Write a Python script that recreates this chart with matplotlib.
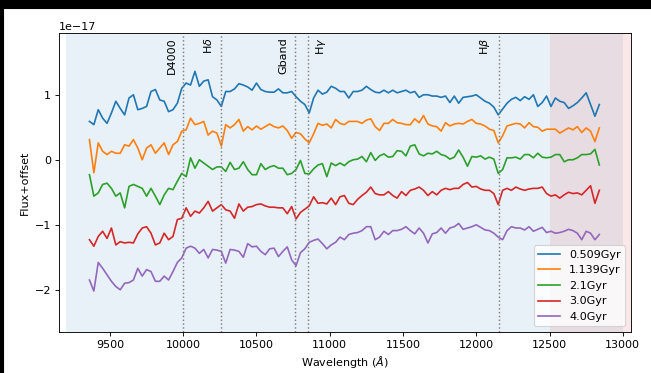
import numpy as np
import matplotlib
matplotlib.use('Agg')
import matplotlib.pyplot as plt
from matplotlib.patches import Rectangle

# Rejilla de longitudes de onda (Angstrom)
wave = np.arange(9360, 12841, 30)

edades = ['0.509Gyr', '1.139Gyr', '2.1Gyr', '3.0Gyr', '4.0Gyr']

# Flujo + offset, en unidades de 1e-17
flux_0509 = [0.59, 0.54, 0.77, 0.64, 0.56, 0.72, 0.90, 0.79, 0.69, 0.95, 1.00, 0.77, 0.79, 0.82, 1.05, 1.08, 0.92, 0.90, 0.74, 0.77, 0.87, 1.10, 1.18, 1.15, 1.36, 1.13, 1.21, 1.23, 0.97,
             0.92, 0.82, 1.05, 1.05, 1.09, 1.17, 1.15, 1.12, 1.07, 1.18, 1.08, 1.05, 1.04, 1.04, 1.09, 1.03, 1.03, 1.05, 0.97, 0.90, 0.85, 0.72, 0.95, 1.07, 1.01, 1.04, 1.13, 1.10, 1.05, 1.05,
             0.95, 1.05, 1.05, 1.07, 1.13, 1.08, 1.04, 1.03, 1.07, 1.03, 1.07, 1.03, 1.05, 1.07, 1.03, 1.05, 0.96, 1.00, 1.00, 0.98, 0.98, 0.96, 0.98, 0.88, 0.98, 0.87, 0.96, 0.97, 0.98,
             1.00, 0.95, 0.90, 0.87, 0.81, 0.69, 0.78, 0.87, 0.93, 0.96, 0.91, 0.97, 0.93, 1.00, 0.82, 0.88, 0.98, 0.82, 0.95, 0.90, 0.88, 0.79, 0.83, 0.88, 0.95, 1.03, 0.85, 0.67, 0.85]
flux_1139 = [0.31, -0.20, 0.26, 0.13, 0.08, 0.13, 0.10, 0.10, 0.23, 0.21, 0.31, 0.18, 0.0, 0.18, 0.23, 0.10, 0.18, 0.26, 0.08, 0.23, 0.28, 0.44, 0.46, 0.64, 0.54, 0.56, 0.59, 0.38, 0.44,
             0.41, 0.21, 0.54, 0.49, 0.54, 0.62, 0.44, 0.51, 0.46, 0.52, 0.47, 0.51, 0.55, 0.51, 0.49, 0.52, 0.45, 0.33, 0.42, 0.40, 0.32, 0.26, 0.40, 0.56, 0.53, 0.55, 0.49, 0.62, 0.56, 0.54,
             0.59, 0.59, 0.59, 0.56, 0.61, 0.63, 0.51, 0.45, 0.56, 0.56, 0.62, 0.57, 0.56, 0.54, 0.54, 0.63, 0.57, 0.68, 0.55, 0.52, 0.51, 0.44, 0.57, 0.52, 0.55, 0.56, 0.55, 0.59, 0.62,
             0.56, 0.55, 0.52, 0.47, 0.45, 0.26, 0.37, 0.52, 0.54, 0.56, 0.55, 0.49, 0.57, 0.51, 0.50, 0.44, 0.47, 0.47, 0.47, 0.41, 0.45, 0.49, 0.46, 0.51, 0.42, 0.49, 0.44, 0.28, 0.49]
flux_21 = [-0.23, -0.56, -0.51, -0.38, -0.36, -0.44, -0.56, -0.51, -0.74, -0.41, -0.38, -0.41, -0.44, -0.56, -0.44, -0.56, -0.69, -0.54, -0.44, -0.46, -0.33, -0.21, -0.26, 0.03, -0.13, 0.0, -0.05, -0.10, -0.15,
           -0.11, -0.11, -0.18, -0.04, -0.15, -0.13, -0.03, -0.15, -0.23, -0.23, -0.06, -0.15, -0.11, -0.09, -0.13, -0.13, -0.23, -0.21, -0.15, -0.01, -0.21, -0.22, -0.14, -0.08, -0.06, -0.26, -0.05, -0.09, -0.05, -0.09,
           -0.03, 0.0, 0.01, 0.05, -0.03, 0.11, -0.01, 0.06, 0.09, 0.04, 0.05, 0.14, 0.13, 0.06, 0.21, 0.23, 0.09, 0.06, 0.10, 0.09, 0.13, 0.08, 0.06, 0.01, 0.04, 0.15, 0.04, -0.10, 0.05,
           0.04, 0.06, 0.01, 0.04, 0.01, -0.21, -0.15, 0.03, 0.03, 0.04, 0.01, 0.08, 0.08, 0.03, 0.10, 0.04, 0.03, 0.04, 0.08, 0.08, -0.03, 0.0, 0.0, 0.03, 0.08, 0.08, 0.09, 0.16, -0.08]
flux_30 = [-1.23, -1.33, -1.18, -1.10, -1.21, -1.05, -1.31, -1.26, -1.28, -1.27, -1.28, -1.14, -1.05, -1.03, -1.13, -1.31, -1.28, -1.13, -1.23, -1.18, -0.92, -0.90, -0.74, -0.87, -0.79, -0.82, -0.74, -0.64, -0.79,
           -0.74, -0.69, -0.77, -0.79, -0.90, -0.68, -0.79, -0.73, -0.72, -0.69, -0.68, -0.71, -0.73, -0.73, -0.74, -0.74, -0.83, -0.72, -0.91, -0.81, -0.76, -0.71, -0.57, -0.67, -0.66, -0.68, -0.59, -0.69, -0.57, -0.55,
           -0.67, -0.69, -0.61, -0.55, -0.50, -0.42, -0.52, -0.54, -0.54, -0.49, -0.55, -0.59, -0.49, -0.55, -0.47, -0.45, -0.42, -0.47, -0.55, -0.49, -0.54, -0.47, -0.44, -0.46, -0.44, -0.44, -0.38, -0.35, -0.42,
           -0.41, -0.45, -0.47, -0.47, -0.52, -0.69, -0.47, -0.44, -0.47, -0.42, -0.45, -0.47, -0.45, -0.44, -0.44, -0.42, -0.52, -0.56, -0.54, -0.59, -0.54, -0.50, -0.52, -0.51, -0.54, -0.47, -0.40, -0.67, -0.47]
flux_40 = [-1.85, -2.02, -1.58, -1.67, -1.77, -1.87, -1.95, -2.00, -1.90, -1.89, -1.85, -1.67, -1.79, -1.69, -1.72, -1.87, -1.87, -1.79, -1.85, -1.72, -1.58, -1.51, -1.36, -1.33, -1.36, -1.44, -1.38, -1.51, -1.38,
           -1.39, -1.41, -1.59, -1.38, -1.39, -1.41, -1.50, -1.29, -1.34, -1.33, -1.41, -1.46, -1.37, -1.36, -1.49, -1.41, -1.34, -1.54, -1.63, -1.43, -1.37, -1.27, -1.24, -1.22, -1.29, -1.37, -1.31, -1.27, -1.19, -1.23,
           -1.15, -1.13, -1.12, -1.09, -1.03, -1.03, -1.23, -1.19, -1.10, -1.15, -1.09, -1.09, -1.07, -1.03, -1.09, -1.14, -1.05, -1.13, -1.28, -1.14, -1.12, -1.05, -1.13, -1.05, -1.03, -0.98, -1.07, -1.05, -1.03,
           -1.00, -1.04, -1.08, -1.09, -1.13, -1.19, -1.23, -1.09, -1.03, -1.05, -1.05, -1.08, -1.03, -1.10, -1.07, -1.04, -1.12, -1.10, -1.13, -1.12, -1.10, -1.07, -1.09, -1.13, -1.23, -1.10, -1.13, -1.23, -1.15]

# Lineas espectrales (z = 1.5)
lineas = ['D4000', r'H$\delta$', 'Gband', r'H$\gamma$', r'H$\beta$']
lineas_lam = [10000, 10255, 10760, 10850, 12153]
lineas_lado = ['left', 'left', 'left', 'right', 'left']

# La captura original esta reducida (~0.8), por eso dpi=80
fig = plt.figure(figsize=(651 / 80, 373 / 80), dpi=80)
ax = fig.add_axes([0.0906, 0.1099, 0.8782, 0.8016])

# Regiones sombreadas
ax.axvspan(9200, 13000, color='C0', alpha=0.1, lw=0)
ax.axvspan(12500, 13100, color='C3', alpha=0.1, lw=0)

for etiqueta, flujo in zip(edades, [flux_0509, flux_1139, flux_21, flux_30, flux_40]):
    ax.plot(wave, np.array(flujo) * 1e-17, label=etiqueta, lw=1.5)

for nombre, lam, lado in zip(lineas, lineas_lam, lineas_lado):
    ax.axvline(lam, color='gray', ls=':', lw=1.3)
    if lado == 'left':
        ax.text(lam - 45, 0.985, nombre, rotation=90, ha='right', va='top',
                transform=ax.get_xaxis_transform(), fontsize=10)
    else:
        ax.text(lam + 45, 0.985, nombre, rotation=90, ha='left', va='top',
                transform=ax.get_xaxis_transform(), fontsize=10)

ax.set_xlim(9152, 13054)
ax.set_ylim(-2.65e-17, 1.95e-17)
ax.set_xlabel(r'Wavelength ($\AA$)')
ax.set_ylabel('Flux+offset')
ax.legend(loc='lower right')

# Borde negro de la captura
fig.add_artist(Rectangle((0, 1 - 8 / 373), 1, 8 / 373, transform=fig.transFigure, color='black', zorder=10))
fig.add_artist(Rectangle((0, 0), 3 / 651, 1, transform=fig.transFigure, color='black', zorder=10))

fig.savefig('out.png', dpi=80)
